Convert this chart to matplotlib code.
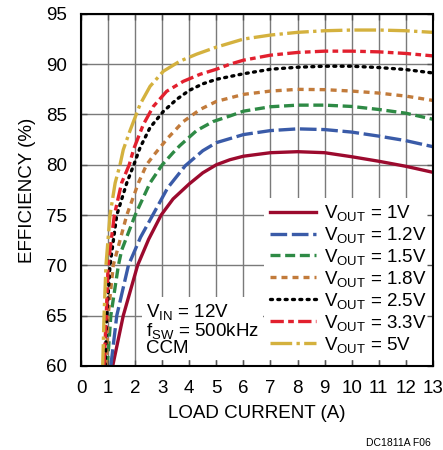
import matplotlib
matplotlib.use('Agg')
import matplotlib.pyplot as plt

# Efficiency vs load current
i_1v = [1.17, 1.56, 2.09, 2.5, 2.96, 3.4, 4.0, 4.5, 5.0, 5.5, 6, 7, 8, 9, 10, 11, 12, 13]
eff_1v = [60, 65, 70, 72.6, 75, 76.6, 78.1, 79.2, 80.0, 80.5, 80.85, 81.2, 81.3, 81.2, 80.8, 80.35, 79.85, 79.25]

i_1v2 = [1.1, 1.32, 1.75, 2.2, 2.65, 3.2, 3.85, 4.5, 5.0, 6, 7, 8, 9, 10, 11, 12, 13]
eff_1v2 = [60, 65, 70, 72.8, 75, 77.7, 79.9, 81.4, 82.2, 83.0, 83.4, 83.57, 83.5, 83.25, 82.85, 82.4, 81.8]

i_1v5 = [0.97, 1.1, 1.38, 1.5, 2.0, 2.55, 3.0, 3.4, 3.65, 4.27, 4.88, 5.5, 6, 7, 8, 9, 10, 11, 12, 13]
eff_1v5 = [60, 65, 70, 71.5, 75, 78.2, 80, 81.2, 81.9, 83.4, 84.3, 84.85, 85.33, 85.77, 85.93, 85.93, 85.8, 85.5, 85.13, 84.53]

i_1v8 = [0.93, 1.0, 1.19, 1.69, 2.12, 2.42, 2.7, 3.22, 3.78, 4.4, 5.0, 6, 7, 8, 9, 10, 11, 12, 13]
eff_1v8 = [60, 65, 70, 75, 78.2, 80, 81.0, 82.7, 84.3, 85.5, 86.3, 87.0, 87.33, 87.5, 87.47, 87.33, 87.13, 86.83, 86.4]

i_2v5 = [0.89, 0.95, 1.07, 1.32, 1.69, 1.95, 2.18, 2.55, 3.04, 3.53, 4.0, 4.5, 5.0, 6, 7, 8, 9, 10, 11, 12, 13]
eff_2v5 = [60, 65, 70, 75, 78.2, 80, 81.7, 83.7, 85.3, 86.5, 87.4, 88.05, 88.5, 89.05, 89.5, 89.7, 89.8, 89.8, 89.67, 89.47, 89.13]

i_3v3 = [0.85, 0.93, 1.0, 1.23, 1.5, 1.78, 1.95, 2.3, 2.67, 3.16, 3.78, 4.4, 5.0, 5.5, 6, 7, 8, 9, 10, 11, 12, 13]
eff_3v3 = [60, 65, 70, 75, 78.2, 80, 81.6, 84.0, 85.8, 87.3, 88.3, 89.0, 89.5, 90.0, 90.4, 90.9, 91.17, 91.3, 91.3, 91.23, 91.07, 90.83]

i_5v = [0.8, 0.85, 0.92, 1.07, 1.26, 1.44, 1.56, 1.81, 2.18, 2.55, 3.04, 3.65, 4.27, 5.0, 6, 7, 8, 9, 10, 11, 12, 13]
eff_5v = [60, 65, 70, 75, 78.2, 80, 81.5, 83.4, 86.0, 87.8, 89.3, 90.3, 91.0, 91.7, 92.5, 92.9, 93.17, 93.33, 93.4, 93.4, 93.33, 93.17]

labels = ['V$_{OUT}$ = 1V', 'V$_{OUT}$ = 1.2V', 'V$_{OUT}$ = 1.5V', 'V$_{OUT}$ = 1.8V',
          'V$_{OUT}$ = 2.5V', 'V$_{OUT}$ = 3.3V', 'V$_{OUT}$ = 5V']
x_ticks = list(range(0, 14))
y_ticks = [60, 65, 70, 75, 80, 85, 90, 95]

plt.rcParams['font.family'] = ['Liberation Sans', 'DejaVu Sans']
plt.rcParams['mathtext.default'] = 'regular'


def main():
    fig = plt.figure(figsize=(4.43, 4.5), dpi=100)
    ax = fig.add_axes([0.183, 0.187, 0.794, 0.782])

    for t in x_ticks:
        ax.axvline(t, color='#7a7a7a', lw=1.0, zorder=1)
    for t in y_ticks:
        ax.axhline(t, color='#7a7a7a', lw=1.0, zorder=1)

    lw = 2.4
    ax.plot(i_1v, eff_1v, color='#9c0a2e', lw=lw, label=labels[0])
    ax.plot(i_1v2, eff_1v2, color='#3a5ba8', lw=lw, ls=(0, (5, 1.4)), label=labels[1])
    ax.plot(i_1v5, eff_1v5, color='#2e8a45', lw=lw, ls=(0, (3, 1.4)), label=labels[2])
    ax.plot(i_1v8, eff_1v8, color='#c27b3b', lw=lw, ls=(0, (1.8, 1.5)), label=labels[3])
    ax.plot(i_2v5, eff_2v5, color='black', lw=lw, ls=(0, (0.6, 1.6)),
            dash_capstyle='round', label=labels[4])
    ax.plot(i_3v3, eff_3v3, color='#e2202e', lw=lw, ls=(0, (4, 1.3, 1.7, 1.3)), label=labels[5])
    ax.plot(i_5v, eff_5v, color='#d4b13e', lw=lw, ls=(0, (6.5, 1.3, 1, 1.3)), label=labels[6])

    ax.set_xlim(0, 13)
    ax.set_ylim(60, 95)
    ax.set_xticks(x_ticks)
    ax.set_yticks(y_ticks)
    ax.tick_params(direction='in', length=4, width=1, labelsize=13.5, pad=10,
                   top=True, right=True, color='#555555')
    ax.xaxis.set_zorder(6)
    ax.yaxis.set_zorder(6)
    for s in ax.spines.values():
        s.set_linewidth(1.5)
        s.set_zorder(7)

    leg = ax.legend(loc='upper right', bbox_to_anchor=(1.0, 0.478), fontsize=13.5,
                    handlelength=2.45, handletextpad=0.45, labelspacing=0.1,
                    borderpad=0.3, borderaxespad=0.0, frameon=True, fancybox=False)
    leg.get_frame().set_facecolor('white')
    leg.get_frame().set_edgecolor('none')
    leg.get_frame().set_alpha(1)
    leg.set_zorder(5)

    ax.text(2.4, 60.9, 'V$_{IN}$ = 12V\nf$_{SW}$ = 500kHz\nCCM', fontsize=13.5,
            ha='left', va='bottom', linespacing=0.92, zorder=4,
            bbox=dict(facecolor='white', edgecolor='none', pad=2.5))

    ax.set_xlabel('LOAD CURRENT (A)', fontsize=13.5, labelpad=6)
    ax.set_ylabel('EFFICIENCY (%)', fontsize=13.5, labelpad=7)
    fig.text(0.972, 0.004, 'DC1811A F06', fontsize=7.5, ha='right', va='bottom')

    fig.savefig('out.png', dpi=100)


if __name__ == '__main__':
    main()
